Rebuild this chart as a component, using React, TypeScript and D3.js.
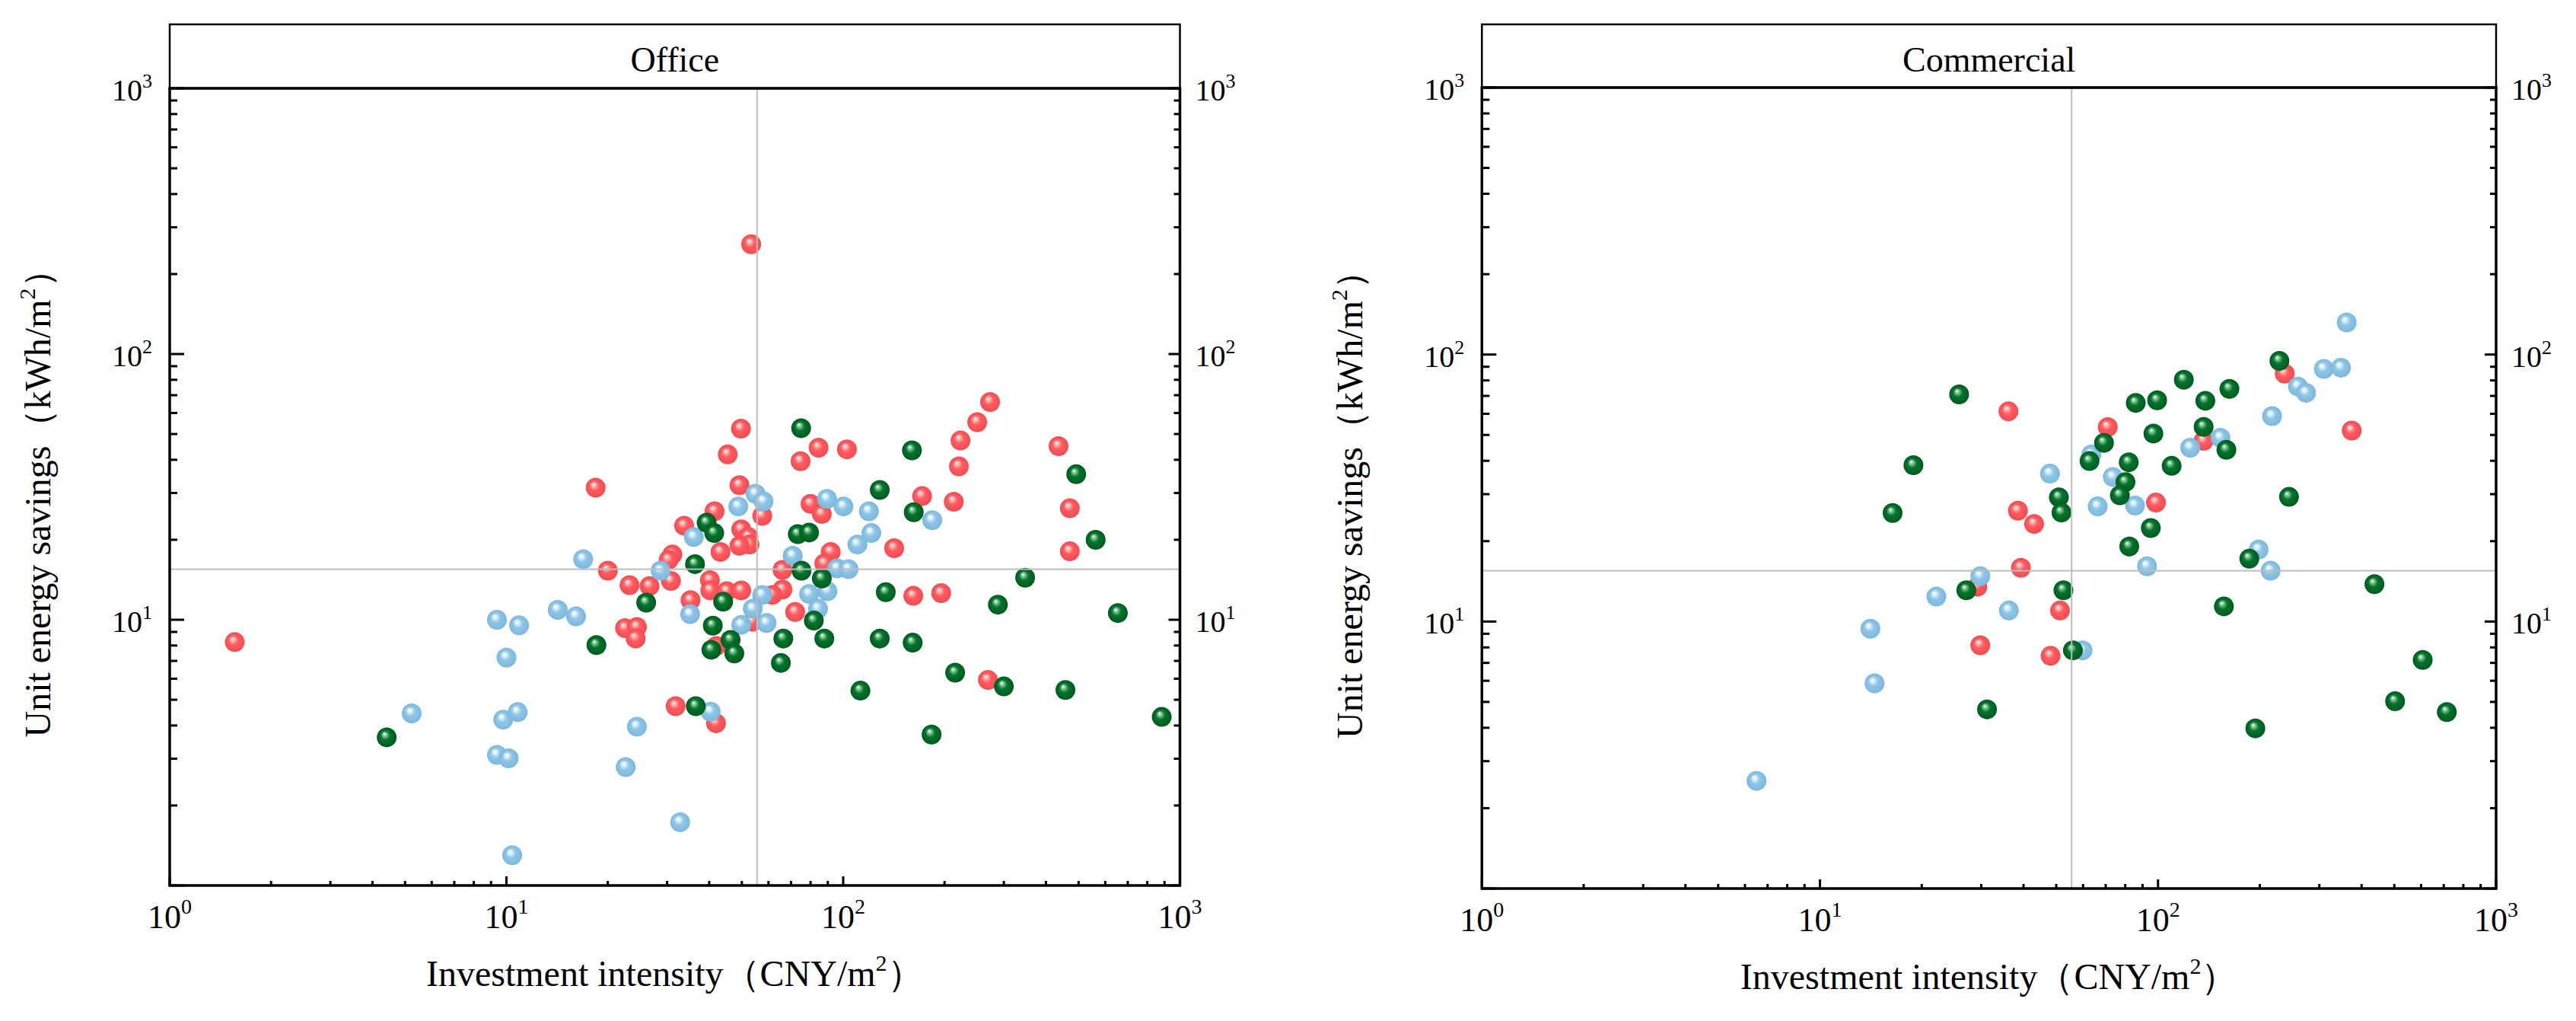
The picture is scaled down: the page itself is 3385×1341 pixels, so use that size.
import React from 'react';
import * as d3 from 'd3';

const W = 3385;
const H = 1341;

// ---- data (x: investment intensity CNY/m2, y: unit energy savings kWh/m2) ----
const officeRed: [number, number][] = [
  [18.4, 31.4], [49.2, 32.1], [41.5, 25.6], [57.5, 24.6], [80, 27.3], [86.4, 25.0], [171.5, 29.2], [213, 27.8],
  [33.7, 22.6], [49.8, 21.9], [52.3, 20.5], [52.7, 19.2], [49.2, 19.0], [43.2, 18.0], [31.1, 17.6], [30.3, 16.8],
  [20.0, 15.3], [23.2, 13.5], [26.6, 13.4], [30.8, 14.0], [40.2, 14.1], [40.3, 12.9], [45.1, 12.8], [49.8, 12.9],
  [35.2, 11.85], [66.0, 15.4], [91.8, 18.0], [87.9, 16.3], [66.0, 13.0], [61.6, 12.4], [72.0, 10.7], [141.7, 18.6],
  [161.5, 12.3], [195.4, 12.6], [22.5, 9.3], [24.4, 9.4], [24.2, 8.5], [53.8, 9.83], [42, 7.97],
  [53.3, 259], [273, 66], [250, 55.4], [49.7, 52.4], [223, 47.3], [436, 45], [84.5, 44.4], [102.6, 43.8],
  [45.4, 41.9], [74.7, 39.5], [220.6, 37.8], [471, 26.3], [471, 18.1], [1.56, 8.24], [269, 5.94], [31.8, 4.73], [41.9, 4.08],
];
const officeBlue: [number, number][] = [
  [54.9, 29.8], [58.0, 27.9], [48.8, 26.7], [89.5, 28.5], [100.2, 26.7], [119.2, 25.6], [183.8, 23.7], [36.0, 20.5],
  [121.2, 21.2], [110.2, 19.2], [16.9, 16.9], [28.7, 15.3], [70.8, 17.4], [95.9, 15.6], [103.7, 15.5], [79.2, 12.5],
  [89.8, 12.8], [57.5, 12.4], [53.9, 11.0], [84.2, 11.0], [16.1, 10.3], [35.1, 10.5], [49.8, 9.57], [59.2, 9.72],
  [9.37, 10.0], [10.9, 9.53], [14.2, 10.9], [10.0, 7.2], [40.4, 4.51], [5.23, 4.44], [9.78, 4.21], [10.8, 4.49],
  [24.4, 3.96], [9.37, 3.1], [10.15, 3.01], [22.6, 2.79], [32.8, 1.73], [10.4, 1.30],
];
const officeGreen: [number, number][] = [
  [128.4, 30.8], [162, 25.4], [39.3, 23.2], [41.4, 21.2], [73.3, 21.0], [79.2, 21.3], [36.3, 16.2], [75.2, 15.3],
  [86.4, 14.3], [133.8, 12.7], [26.0, 11.6], [44.0, 11.7], [41.0, 9.5], [81.8, 9.93], [18.5, 8.03], [66.4, 8.5],
  [87.9, 8.5], [128.4, 8.5], [160.8, 8.2], [46.3, 8.4], [40.6, 7.71], [47.5, 7.47], [65.3, 6.88],
  [75, 52.6], [160, 43.4], [492, 35.3], [562, 20.0], [347, 14.4], [288, 11.4], [654, 10.6], [215, 6.32],
  [300, 5.61], [112.5, 5.41], [457, 5.44], [883, 4.31], [183, 3.70], [36.5, 4.73], [4.41, 3.61],
];
const commercialRed: [number, number][] = [
  [36.1, 61.3], [38.5, 26.0], [43.0, 23.2], [39.3, 15.9], [29.2, 13.5], [51.3, 11.0], [71.0, 53.5], [98.6, 27.9],
  [29.8, 8.15], [237, 84.8], [374, 51.9], [136.4, 47.5], [48.1, 7.44],
];
const commercialBlue: [number, number][] = [
  [47.9, 35.8], [63.5, 42.2], [73.5, 34.8], [66.3, 27.0], [85.5, 27.2], [92.8, 16.1], [29.8, 14.8], [22.1, 12.4],
  [36.2, 11.0], [14.1, 9.4], [361.4, 131.9], [309.3, 88.4], [347.6, 89.3], [259.3, 75.9], [274, 71.9], [217.4, 58.8],
  [124.5, 44.8], [153, 48.8], [198.4, 18.6], [215.2, 15.5], [59.8, 7.8], [14.5, 5.87], [6.49, 2.53],
];
const commercialGreen: [number, number][] = [
  [25.8, 70.9], [18.9, 38.5], [16.4, 25.5], [50.9, 29.2], [51.8, 25.6], [52.5, 13.1], [27.1, 13.1], [85.9, 65.9],
  [99.4, 67.4], [96.9, 50.6], [69.2, 46.7], [62.7, 39.9], [81.9, 39.5], [80.1, 33.3], [77.1, 29.7], [95.2, 22.4],
  [82.2, 19.1], [109.7, 38.3], [119.2, 80.5], [138, 67.1], [162.6, 74.4], [136.4, 53.6], [159.3, 44.0], [228.6, 94.7],
  [244, 29.3], [186.2, 17.2], [156.6, 11.4], [436.7, 13.8], [606.6, 7.18], [502.6, 5.03], [714.9, 4.58], [194, 3.98],
  [56, 7.8], [31.2, 4.69],
];

const X_DECADES = [1, 10, 100, 1000];
const X_DECADE_EXP = ['0', '1', '2', '3'];
const Y_LABELED = [10, 100, 1000];
const Y_LABELED_EXP = ['1', '2', '3'];
const REF_X = 55.5;
const REF_Y = 15.5;
const PANEL_TITLES = ['Office', 'Commercial'];
const X_LABEL = 'Investment intensity（CNY/m';
const Y_LABEL = 'Unit energy savings（kWh/m';

const SERIES_COLORS = {
  red: { base: '#ff5b5f', light: '#ffb3b4', dark: '#f24c52' },
  blue: { base: '#8ec6e7', light: '#dcf0fa', dark: '#7cb7dc' },
  green: { base: '#00742b', light: '#7fc293', dark: '#005a20' },
};

const FONT = '"Times New Roman", "Liberation Serif", "DejaVu Serif", serif';

type Panel = {
  title: string;
  x0: number; x1: number; yTop: number; yBot: number; stripTop: number;
  series: { key: keyof typeof SERIES_COLORS; data: [number, number][] }[];
};

const panels: Panel[] = [
  {
    title: PANEL_TITLES[0], x0: 223, x1: 1550.5, yTop: 116, yBot: 1163, stripTop: 32,
    series: [
      { key: 'red', data: officeRed },
      { key: 'blue', data: officeBlue },
      { key: 'green', data: officeGreen },
    ],
  },
  {
    title: PANEL_TITLES[1], x0: 1947.3, x1: 3280, yTop: 115, yBot: 1167, stripTop: 32,
    series: [
      { key: 'red', data: commercialRed },
      { key: 'blue', data: commercialBlue },
      { key: 'green', data: commercialGreen },
    ],
  },
];

const minorTicks: number[] = [];
for (let e = 0; e < 3; e++) for (let m = 2; m <= 9; m++) minorTicks.push(m * Math.pow(10, e));

function PanelView({ p }: { p: Panel }) {
  const x = d3.scaleLog().domain([1, 1000]).range([p.x0, p.x1]);
  const y = d3.scaleLog().domain([1, 1000]).range([p.yBot, p.yTop]);
  const cx = (p.x0 + p.x1) / 2;
  const cy = (p.yTop + p.yBot) / 2;
  const R = 13;
  return (
    <g>
      {/* markers */}
      {p.series.map((s) => (
        <g key={s.key}>
          {s.data.map((d, i) => (
            <circle key={i} cx={x(d[0])} cy={y(d[1])} r={R} fill={`url(#grad-${s.key})`} />
          ))}
        </g>
      ))}
      {/* reference lines */}
      <line x1={x(REF_X)} x2={x(REF_X)} y1={p.yTop} y2={p.yBot} stroke="#bdbdbd" strokeWidth={2.2} opacity={0.9} />
      <line x1={p.x0} x2={p.x1} y1={y(REF_Y)} y2={y(REF_Y)} stroke="#bdbdbd" strokeWidth={2.2} opacity={0.9} />

      {/* title strip */}
      <rect x={p.x0} y={p.stripTop} width={p.x1 - p.x0} height={p.yTop - p.stripTop} fill="white" stroke="black" strokeWidth={2.5} />
      <text x={cx} y={p.stripTop + 62} textAnchor="middle" fontFamily={FONT} fontSize={46}>{p.title}</text>

      {/* ticks */}
      {minorTicks.map((t) => (
        <g key={'m' + t}>
          <line x1={p.x0} x2={p.x0 + 10} y1={y(t)} y2={y(t)} stroke="black" strokeWidth={3} />
          <line x1={p.x1} x2={p.x1 - 8} y1={y(t)} y2={y(t)} stroke="black" strokeWidth={3} />
          <line x1={x(t)} x2={x(t)} y1={p.yBot} y2={p.yBot - 6} stroke="black" strokeWidth={3} />
        </g>
      ))}
      {X_DECADES.map((t) => (
        <g key={'M' + t}>
          <line x1={p.x0} x2={p.x0 + 19} y1={y(t)} y2={y(t)} stroke="black" strokeWidth={3} />
          <line x1={p.x1} x2={p.x1 - 15} y1={y(t)} y2={y(t)} stroke="black" strokeWidth={3} />
          <line x1={x(t)} x2={x(t)} y1={p.yBot} y2={p.yBot - 12} stroke="black" strokeWidth={3} />
        </g>
      ))}

      {/* plot frame */}
      <rect x={p.x0} y={p.yTop} width={p.x1 - p.x0} height={p.yBot - p.yTop} fill="none" stroke="black" strokeWidth={3.5} />

      {/* y tick labels (left and right) */}
      {Y_LABELED.map((t, i) => (
        <g key={'Y' + t} fontFamily={FONT}>
          <text x={p.x0 - 23} y={y(t) + 16} textAnchor="end" fontSize={40}>
            10<tspan fontSize={26} dy={-17}>{Y_LABELED_EXP[i]}</tspan>
          </text>
          <text x={p.x1 + 20} y={y(t) + 16} textAnchor="start" fontSize={40}>
            10<tspan fontSize={26} dy={-17}>{Y_LABELED_EXP[i]}</tspan>
          </text>
        </g>
      ))}
      {/* x tick labels */}
      {X_DECADES.map((t, i) => (
        <text key={'X' + t} x={x(t)} y={p.yBot + 56} textAnchor="middle" fontFamily={FONT} fontSize={44}>
          10<tspan fontSize={28} dy={-19}>{X_DECADE_EXP[i]}</tspan>
        </text>
      ))}

      {/* axis labels */}
      <text x={cx} y={p.yBot + 132} textAnchor="middle" fontFamily={FONT} fontSize={48}>
        {X_LABEL}<tspan fontSize={30} dy={-20}>2</tspan><tspan dy={20}>）</tspan>
      </text>
      <text
        transform={`translate(${p.x0 - 157},${cy + 10}) rotate(-90)`}
        textAnchor="middle"
        fontFamily={FONT}
        fontSize={48}
      >
        {Y_LABEL}<tspan fontSize={30} dy={-20}>2</tspan><tspan dy={20}>）</tspan>
      </text>
    </g>
  );
}

export default function App() {
  return (
    <svg
      width={W}
      height={H}
      viewBox={`0 0 ${W} ${H}`}
      style={{ position: 'absolute', left: 0, top: 0, background: 'white' }}
    >
      <defs>
        {(Object.keys(SERIES_COLORS) as (keyof typeof SERIES_COLORS)[]).map((k) => {
          const c = SERIES_COLORS[k];
          return (
            <radialGradient key={k} id={`grad-${k}`} cx="50%" cy="50%" r="50%" fx="38%" fy="32%">
              <stop offset="0" stopColor="#ffffff" />
              <stop offset="0.2" stopColor={c.light} />
              <stop offset="0.48" stopColor={c.base} />
              <stop offset="1" stopColor={c.dark} />
            </radialGradient>
          );
        })}
      </defs>
      <rect x={0} y={0} width={W} height={H} fill="white" />
      {panels.map((p) => (
        <PanelView key={p.title} p={p} />
      ))}
    </svg>
  );
}
